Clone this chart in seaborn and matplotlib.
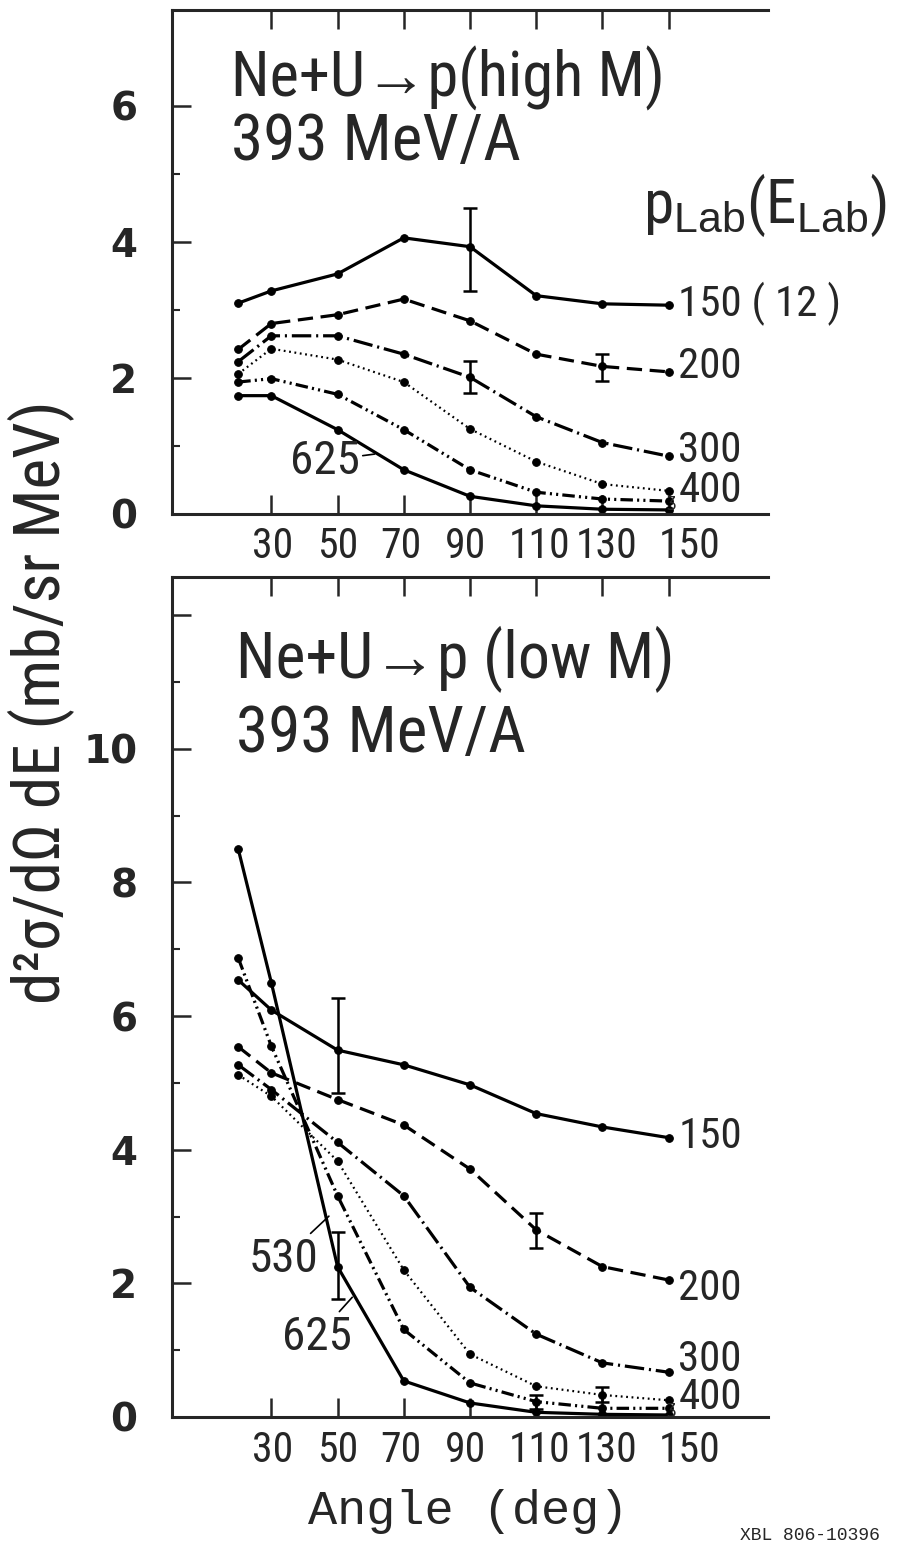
import numpy as np
import seaborn as sns
import matplotlib.pyplot as plt
import matplotlib.transforms as mtransforms

sns.set_style("ticks")
SANS = ['DejaVu Sans Condensed', 'Liberation Sans Narrow', 'Roboto Condensed', 'Liberation Sans', 'DejaVu Sans']
plt.rcParams['font.family'] = SANS
plt.rcParams['mathtext.fontset'] = 'custom'
plt.rcParams['mathtext.rm'] = 'Liberation Sans'
plt.rcParams['lines.scale_dashes'] = False

angles = [20, 30, 50, 70, 90, 110, 130, 150]
xticks = [30, 50, 70, 90, 110, 130, 150]

# high M panel, d2sigma/dOmega dE (mb/sr MeV) per p_Lab
high = {
    "150": [3.10, 3.28, 3.53, 4.06, 3.93, 3.21, 3.09, 3.07],
    "200": [2.42, 2.80, 2.93, 3.16, 2.84, 2.35, 2.17, 2.09],
    "300": [2.24, 2.62, 2.62, 2.35, 2.01, 1.43, 1.05, 0.85],
    "400": [2.06, 2.43, 2.27, 1.94, 1.25, 0.77, 0.44, 0.34],
    "530": [1.94, 1.99, 1.76, 1.24, 0.65, 0.32, 0.22, 0.19],
    "625": [1.74, 1.74, 1.24, 0.65, 0.26, 0.12, 0.07, 0.06],
}
# (series, angle, low, high)
high_err = [("150", 90, 3.28, 4.50), ("200", 130, 1.95, 2.35), ("300", 90, 1.78, 2.25)]

# low M panel
low = {
    "150": [6.54, 6.09, 5.49, 5.27, 4.97, 4.54, 4.34, 4.18],
    "200": [5.54, 5.15, 4.75, 4.37, 3.71, 2.80, 2.25, 2.05],
    "300": [5.27, 4.90, 4.11, 3.31, 1.94, 1.24, 0.81, 0.67],
    "400": [5.12, 4.80, 3.83, 2.20, 0.94, 0.46, 0.33, 0.25],
    "530": [6.87, 5.55, 3.31, 1.31, 0.51, 0.23, 0.13, 0.13],
    "625": [8.50, 6.50, 2.25, 0.54, 0.21, 0.07, 0.04, 0.03],
}
low_err = [("150", 50, 4.85, 6.27), ("200", 110, 2.53, 3.05), ("625", 50, 1.77, 2.77),
           ("400", 130, 0.22, 0.45), ("530", 110, 0.12, 0.33)]

styles = {
    "150": "-",
    "200": (0, (11, 5.5)),
    "300": (0, (14, 3.5, 1.5, 3.5)),
    "400": (0, (1.3, 2.6)),
    "530": (0, (9, 3, 1.5, 3, 1.5, 3)),
    "625": "-",
}
widths = {"150": 2.3, "200": 2.3, "300": 2.3, "400": 1.6, "530": 2.3, "625": 2.3}
# hand lettered tick labels sit a little off their ticks (pixels)
xlabel_shift = [1, 0, -3, -5, 3, 4, 21]

fig = plt.figure(figsize=(9.22, 15.42), dpi=100)
ax_top = fig.add_axes([172 / 922, 1 - 514 / 1542, 596 / 922, 504 / 1542])
ax_bot = fig.add_axes([172 / 922, 1 - 1417 / 1542, 596 / 922, 840 / 1542])


def draw_panel(ax, series, errs, ymax):
    for p, vals in series.items():
        sns.lineplot(x=angles, y=vals, ax=ax, color="black", marker="o", markersize=5.5,
                     markeredgecolor="black", linewidth=widths[p], linestyle=styles[p],
                     errorbar=None)
    for p, a, lo, hi in errs:
        v = series[p][angles.index(a)]
        ax.errorbar([a], [v], yerr=[[v - lo], [hi - v]], fmt="none", ecolor="black",
                    elinewidth=1.8, capsize=5, capthick=1.8)
    ax.set_xlim(0, 180)
    ax.set_ylim(0, ymax)
    ax.set_xticks(xticks)
    ax.set_xticklabels([str(t) for t in xticks], fontsize=30)
    ax.tick_params(axis="x", direction="in", top=True, bottom=True, length=14, width=1.8, pad=9)
    ax.tick_params(axis="y", which="major", direction="in", length=14, width=1.8, pad=25)
    ax.tick_params(axis="y", which="minor", direction="in", length=6, width=1.5)
    for lab, dx in zip(ax.get_xticklabels(), xlabel_shift):
        lab.set_transform(lab.get_transform() +
                          mtransforms.ScaledTranslation(dx / 100, 0, fig.dpi_scale_trans))
    ax.spines["right"].set_visible(False)
    for s in ["left", "top", "bottom"]:
        ax.spines[s].set_linewidth(2.2)
    ax.set_xlabel("")
    ax.set_ylabel("")


draw_panel(ax_top, high, high_err, 7.41)
ax_top.set_yticks([0, 2, 4, 6])
ax_top.set_yticks([1, 3, 5], minor=True)
ax_top.set_yticklabels(["0", "2", "4", "6"], fontfamily="DejaVu Sans", fontweight="bold", fontsize=28)

draw_panel(ax_bot, low, low_err, 12.57)
ax_bot.set_yticks([0, 2, 4, 6, 8, 10, 12])
ax_bot.set_yticks([1, 3, 5, 7, 9, 11], minor=True)
ax_bot.set_yticklabels(["0", "2", "4", "6", "8", "10", ""], fontfamily="DejaVu Sans",
                       fontweight="bold", fontsize=28)

# titles
ax_top.text(0.099, 0.829, "Ne+U\u2192p(high M)", transform=ax_top.transAxes, fontsize=45)
ax_top.text(0.099, 0.702, "393 MeV/A", transform=ax_top.transAxes, fontsize=47)
ax_bot.text(0.107, 0.880, "Ne+U\u2192p (low M)", transform=ax_bot.transAxes, fontsize=46)
ax_bot.text(0.107, 0.792, "393 MeV/A", transform=ax_bot.transAxes, fontsize=47)
ax_top.text(0.79, 0.577, r"p$_{\rm Lab}$(E$_{\rm Lab}$)", transform=ax_top.transAxes, fontsize=44)

# end-of-curve labels
top_labels = {"150": ("150 ( 12 )", 1), "200": ("200", 4), "300": ("300", 4), "400": ("400", 0)}
for p, (txt, dy) in top_labels.items():
    ax_top.annotate(txt, xy=(angles[-1], high[p][-1]), xytext=(7, dy), textcoords="offset points",
                    va="center", ha="left", fontsize=31)
bot_labels = {"150": ("150", 1), "200": ("200", -6), "300": ("300", 9), "400": ("400", 2)}
for p, (txt, dy) in bot_labels.items():
    ax_bot.annotate(txt, xy=(angles[-1], low[p][-1]), xytext=(7, dy), textcoords="offset points",
                    va="center", ha="left", fontsize=31)

# brackets tying the low curves to the 400 label
for ax, ser in [(ax_top, high), (ax_bot, low)]:
    ax.annotate("\u0292", xy=(angles[-1], ser["530"][-1]), xytext=(-2, 0), textcoords="offset points",
                va="center", ha="left", fontsize=12, family="DejaVu Sans")

# labels with leader lines
ax_top.annotate("625", xy=(62, np.interp(62, angles, high["625"])), xytext=(-38, -5),
                textcoords="offset points", fontsize=34, ha="center", va="center",
                arrowprops=dict(arrowstyle="-", lw=1.2, color="black", shrinkA=0, shrinkB=2))
ax_bot.annotate("530", xy=(48, np.interp(48, angles, low["530"]) - 0.5), xytext=(-34, -32),
                textcoords="offset points", fontsize=34, ha="center", va="center",
                arrowprops=dict(arrowstyle="-", lw=1.2, color="black", shrinkA=0, shrinkB=2))
ax_bot.annotate("625", xy=(55, np.interp(55, angles, low["625"])), xytext=(-27, -30),
                textcoords="offset points", fontsize=34, ha="center", va="center",
                arrowprops=dict(arrowstyle="-", lw=1.2, color="black", shrinkA=0, shrinkB=2))

fig.text(41 / 922, 1 - 702 / 1542, "d\u00b2\u03c3/d\u03a9 dE (mb/sr MeV)", rotation=90,
         ha="center", va="center", fontsize=47)
fig.text(468 / 922, 1 - 1512 / 1542, "Angle (deg)", ha="center", va="center", fontsize=35,
         family="Liberation Mono")
fig.text(740 / 922, 1 - 1527 / 1542, "XBL 806-10396", ha="left", va="top", fontsize=13,
         family="Liberation Mono")

fig.savefig("out.png", dpi=100)
